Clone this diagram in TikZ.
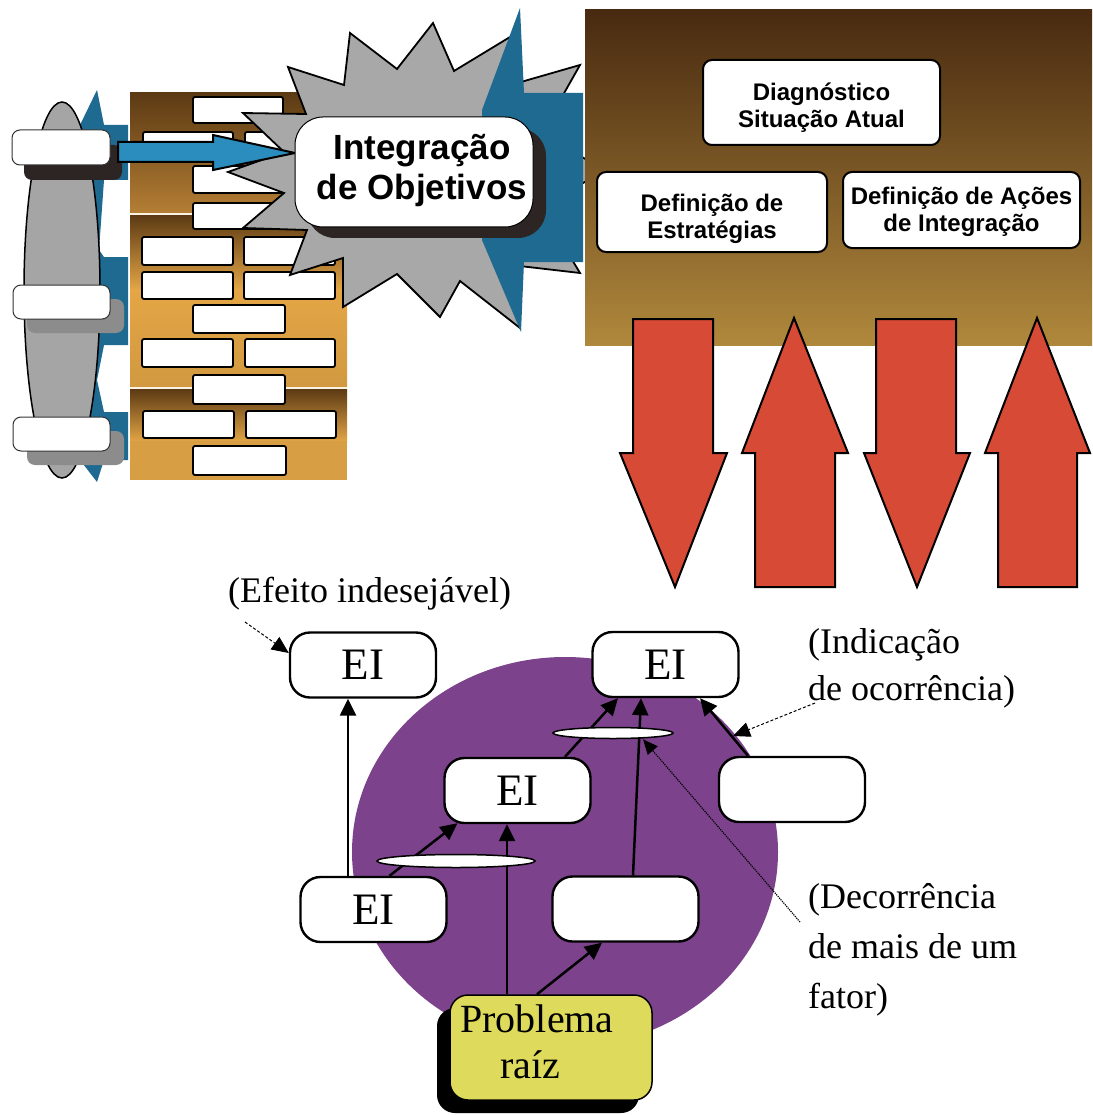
\documentclass[tikz,border=0pt]{standalone}
\usepackage{fontspec}
\setmainfont{Liberation Serif}
\setsansfont{Liberation Sans}
\usetikzlibrary{arrows.meta,shapes.geometric}
\pgfdeclarelayer{front}
\pgfsetlayers{main,front}

\definecolor{steelblue}{RGB}{31,106,145}
\definecolor{arrowblue}{RGB}{43,141,190}
\definecolor{stargray}{RGB}{168,168,168}
\definecolor{spindle}{RGB}{165,165,165}
\definecolor{brickdark}{RGB}{92,58,20}
\definecolor{brickmid}{RGB}{180,126,52}
\definecolor{brickgold}{RGB}{228,166,70}
\definecolor{panelTop}{RGB}{72,42,16}
\definecolor{panelMid}{RGB}{116,76,32}
\definecolor{panelBot}{RGB}{176,136,60}
\definecolor{blockred}{RGB}{214,74,54}
\definecolor{plum}{RGB}{124,66,140}
\definecolor{rootyellow}{RGB}{222,218,92}
\definecolor{shadowdark}{RGB}{45,36,36}

\begin{document}
\begin{tikzpicture}[x=1pt,y=-1pt,
  brick/.style={fill=white, draw=black, line width=1.8pt, rounded corners=2pt},
  tab/.style={fill=white, draw=black!80, line width=1pt, rounded corners=8pt},
  tbox/.style={draw=black, fill=white, line width=2pt, rounded corners=9pt, inner sep=0pt},
  ttext/.style={inner sep=0pt, align=center, anchor=base, font=\sffamily\bfseries\fontsize{24}{27}\selectfont},
  ebox/.style={draw=black, fill=white, line width=2.4pt, rounded corners=20pt,
    minimum width=146pt, minimum height=65pt, inner sep=0pt, font=\fontsize{45}{45}\selectfont},
  oval/.style={ellipse, draw=black, fill=white, line width=1.5pt, inner sep=0pt},
  lnk/.style={line width=2.5pt, -{Triangle[length=17pt,width=16pt]}},
  thinlnk/.style={line width=1pt, densely dashed, -{Triangle[length=17pt,width=15pt]}},
  dotlnk/.style={line width=1.2pt, densely dotted, -{Triangle[length=15pt,width=13pt]}},
  note/.style={inner sep=0pt, align=left, anchor=base west, font=\fontsize{36}{#1}\selectfont},
  note/.default=48,
  redarrow/.style={fill=blockred, draw=black, line width=2pt, line join=miter},
]
\useasboundingbox (0,0) rectangle (1092,1115);

% ---------------- left column: spindle, blue spikes and tabs ----------------
\fill[steelblue] (97,90) -- (104,125) -- (128,125) -- (128,180) -- (104,180) -- (99,250)
  -- (104,257) -- (128,257) -- (128,345) -- (104,345) -- (97,380) -- (104,412)
  -- (128,412) -- (128,460) -- (104,460) -- (97,482) -- (80,460) -- (80,125) -- cycle;
\draw[fill=spindle, line width=1.5pt] (62,290) ellipse [x radius=38, y radius=188];

\fill[shadowdark, rounded corners=8pt] (24,145) rectangle (122,180);
\draw[tab] (12,130) rectangle (110,165);
\fill[black!45, rounded corners=8pt] (27,299) rectangle (124,333);
\draw[tab] (13,285) rectangle (110,319);
\fill[black!45, rounded corners=8pt] (27,431) rectangle (124,465);
\draw[tab] (13,417) rectangle (110,451);

% ---------------- brick wall ----------------
\shade[top color=brickdark, bottom color=brickmid] (130,93) rectangle (347,213);
\shade[top color=brickdark, bottom color=brickgold] (130,215) rectangle (347,290);
\shade[top color=brickgold, bottom color=brickgold!92!black] (130,289) rectangle (347,387);
\shade[top color=brickdark, bottom color=brickgold] (130,389) rectangle (347,442);
\fill[brickgold!95!black] (130,441) rectangle (347,480);
\fill[white!85!brickgold] (130,213) rectangle (347,215);
\fill[white!85!brickgold] (130,387) rectangle (347,389);

\foreach \xa/\ya/\xb/\yb in {
  193/97/283/123,
  143/132/233/158, 245/132/335/158,
  193/166/283/193,
  193/203/283/229,
  142/237/233/265, 244/237/335/265,
  142/272/233/299, 244/272/335/299,
  193/305/285/333,
  142/339/233/367, 245/339/335/367,
  193/375/285/404,
  143/411/234/438, 246/411/336/438,
  193/446/286/475}
  \draw[brick] (\xa,\ya) rectangle (\xb,\yb);

% ---------------- burst with the central label ----------------
\draw[fill=stargray, line width=1.8pt, line join=miter]
  (433,23) -- (454,71) -- (510,37) -- (507,86) -- (580,65) -- (541,134) -- (605,170)
  -- (541,208) -- (580,273) -- (511,265) -- (520,328) -- (460,281) -- (440,317)
  -- (397,274) -- (343,307) -- (343,258) -- (290,275) -- (307,230) -- (243,228)
  -- (284,193) -- (228,172) -- (284,152) -- (243,113) -- (306,114) -- (288,67)
  -- (344,85) -- (350,33) -- (397,69) -- cycle;
\fill[steelblue] (520,8) -- (524,93) -- (583,93) -- (583,262) -- (524,262) -- (521,332)
  -- (482,240) -- (482,110) -- cycle;

\draw[fill=arrowblue, line width=2pt, line join=miter]
  (118,142) -- (213,142) -- (213,135) -- (295,153) -- (213,170) -- (213,162) -- (118,162) -- cycle;

\fill[shadowdark, rounded corners=28pt] (307,128) rectangle (546,238);
\node[draw=black, fill=white, line width=1pt, rounded corners=28pt, inner sep=0pt,
  minimum width=238pt, minimum height=110pt] (integ) at (414,172) {};
\node[font=\sffamily\bfseries\fontsize{35}{40}\selectfont, anchor=base] (integA) at (422,160) {Integração};
\node[font=\sffamily\bfseries\fontsize{35}{40}\selectfont, anchor=base] (integB) at (422,200) {de Objetivos};

% ---------------- right panel ----------------
\shade[top color=panelTop, middle color=panelMid, bottom color=panelBot] (585,10) rectangle (1092,345);
\node[tbox, minimum width=237pt, minimum height=85pt] (diag) at (821.5,102.5) {};
\node[tbox, minimum width=230pt, minimum height=80pt] (estr) at (712,212) {};
\node[tbox, minimum width=237pt, minimum height=76pt] (acoes) at (961.5,210) {};
\node[ttext] (diagT) at (821.5,128) {Diagnóstico\\Situação Atual};
\node[ttext] (estrT) at (712,239) {Definição de\\Estratégias};
\node[ttext] (acoesT) at (961.5,232) {Definição de Ações\\de Integração};

% ---------------- block arrows ----------------
\draw[redarrow] (633,319) -- (713,319) -- (713,453) -- (727,453) -- (675,587) -- (620,453) -- (633,453) -- cycle;
\draw[redarrow] (794,318) -- (848,453) -- (835,453) -- (835,587) -- (755,587) -- (755,453) -- (742,453) -- cycle;
\draw[redarrow] (876,319) -- (956,319) -- (956,453) -- (970,453) -- (917,587) -- (864,453) -- (876,453) -- cycle;
\draw[redarrow] (1037,318) -- (1090,453) -- (1077,453) -- (1077,587) -- (998,587) -- (998,453) -- (985,453) -- cycle;

% ---------------- cause and effect tree ----------------
\fill[plum] (565,852) ellipse [x radius=213, y radius=195];

\fill[black, rounded corners=18pt] (437,1008) rectangle (639,1113);
\node[draw=black, fill=rootyellow, line width=1.5pt, rounded corners=18pt,
  minimum width=202pt, minimum height=105pt, inner sep=0pt] (root) at (551,1047.5) {};
\node[anchor=base, inner sep=0pt, font=\fontsize{40}{40}\selectfont] (rootA) at (537,1032) {Problema};
\node[anchor=base, inner sep=0pt, font=\fontsize{40}{40}\selectfont] (rootB) at (530,1078) {raíz};

\node[ebox] (ei1) at (363,665) {EI};
\node[ebox] (ei2) at (665.5,664.5) {EI};
\node[ebox] (ei3) at (517.5,790.5) {EI};
\node[ebox] (b1) at (792,789.5) {};
\node[ebox] (ei4) at (373.5,909.5) {EI};
\node[ebox] (b2) at (625.5,909) {};

\draw[lnk] ([xshift=-25.5pt]ei4.north) -- ([xshift=-15pt]ei1.south);
\draw[lnk] ([xshift=16pt]ei4.north) -- ([xshift=-60pt,yshift=1pt]ei3.south);
\draw[lnk] ([xshift=-44pt]root.north) -- ([xshift=-10.5pt]ei3.south);
\draw[lnk] ([xshift=-14pt]root.north) -- ([xshift=-23.5pt]b2.south);
\draw[lnk] ([xshift=7.5pt]b2.north) -- ([xshift=-24.5pt]ei2.south);
\draw[lnk] ([xshift=47.5pt]ei3.north) -- ([xshift=-47.5pt]ei2.south);
\draw[lnk] ([xshift=-44pt]b1.north) -- ([xshift=34.5pt]ei2.south);

\begin{pgfonlayer}{front}
\node[oval, minimum width=120pt, minimum height=11pt] (and1) at (613,733) {};
\node[oval, minimum width=158pt, minimum height=13pt] (and2) at (456,861) {};
\end{pgfonlayer}

% ---------------- annotations ----------------
\node[note] (efeito) at (228,602) {(Efeito indesejável)};
\node[note=47] (indic) at (808,700) {(Indicação\\de ocorrência)};
\node[note=50] (decor) at (808,1008) {(Decorrência\\de mais de um\\fator)};

\coordinate (efetail) at (245,622);
\coordinate (indtail) at (815,703);
\coordinate (indtip) at (733,736);
\coordinate (dectail) at (800,922);

\draw[thinlnk] (efetail) -- ([yshift=12pt]ei1.west);
\draw[thinlnk] (indtail) -- (indtip);
\begin{pgfonlayer}{front}
\draw[dotlnk] (dectail) -- ([xshift=30pt]and1.south);
\end{pgfonlayer}

\end{tikzpicture}
\end{document}
